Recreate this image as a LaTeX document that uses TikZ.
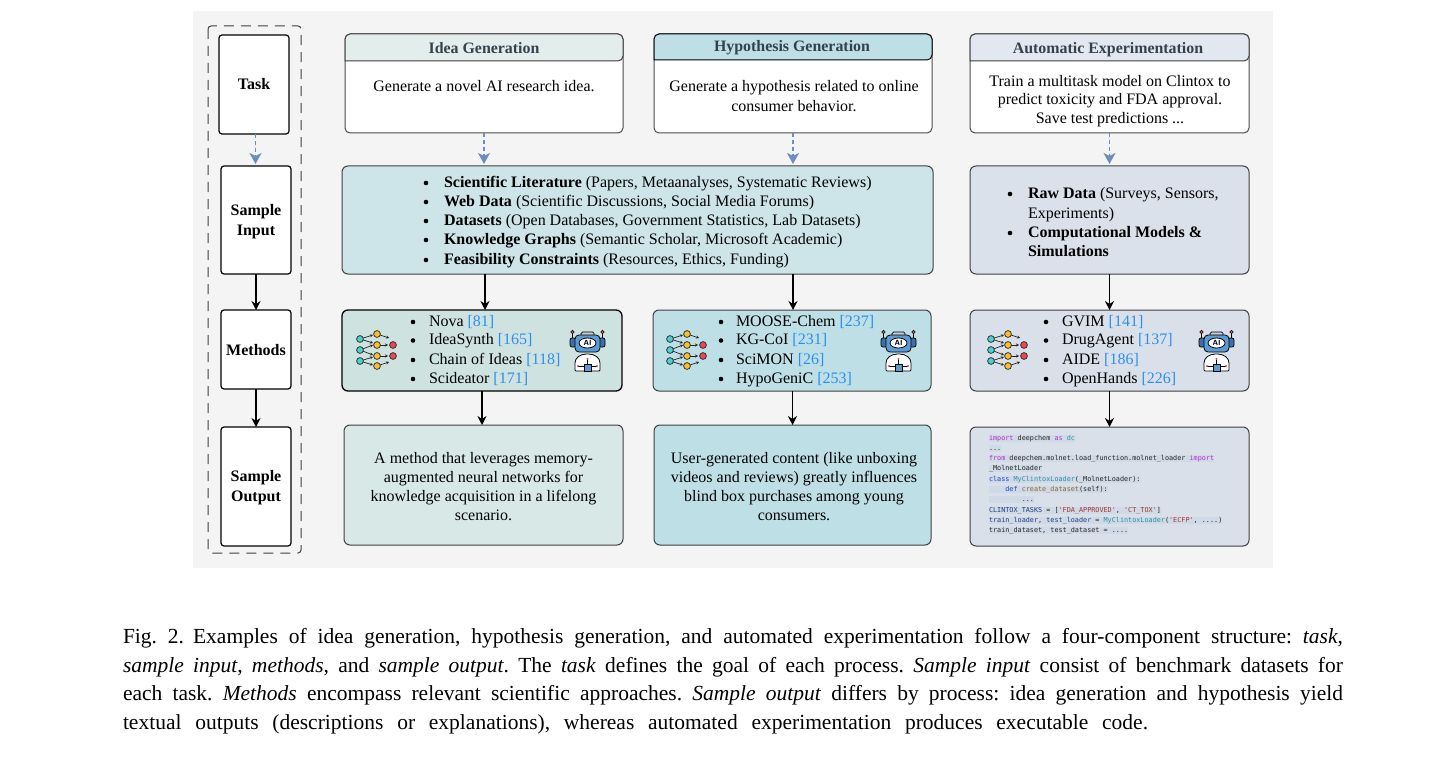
\documentclass[tikz,border=0pt]{standalone}
\usepackage{fontspec}
\setmainfont{Liberation Serif}
\newfontfamily\codefont{DejaVu Sans Mono}
\usetikzlibrary{arrows.meta,calc}
\frenchspacing
\definecolor{panel}{HTML}{F4F4F4}
\definecolor{linkc}{HTML}{2B8FF0}
\definecolor{dashc}{HTML}{6C8EBF}
\definecolor{titlec}{HTML}{34424F}
\definecolor{fidea}{HTML}{E3EEEC}
\definecolor{fhyp}{HTML}{BEDFE6}
\definecolor{fauto}{HTML}{E3E7EF}
\definecolor{flit}{HTML}{CDE4E8}
\definecolor{fraw}{HTML}{DAE1EB}
\definecolor{fmone}{HTML}{CEE2DF}
\definecolor{fmtwo}{HTML}{BFDFE6}
\definecolor{fmthree}{HTML}{DAE0EA}
\definecolor{foutone}{HTML}{D8E8E6}
\definecolor{fouttwo}{HTML}{BEDFE6}
\definecolor{codeh}{HTML}{D0DAE6}
\definecolor{kwp}{HTML}{B52BD0}
\definecolor{kwb}{HTML}{2040D0}
\definecolor{tyc}{HTML}{2B8FA8}
\definecolor{fnc}{HTML}{8A6A30}
\definecolor{stc}{HTML}{A83232}
\definecolor{vrc}{HTML}{1F3F80}
\definecolor{icteal}{HTML}{4DD0CC}
\definecolor{icyel}{HTML}{F5C02B}
\definecolor{icred}{HTML}{E84855}
\definecolor{icblue}{HTML}{5B9BD5}
\definecolor{icdark}{HTML}{3F6FA8}
\newcommand{\fs}[1]{\fontsize{#1}{#1}\selectfont}
\newcommand{\rf}[1]{\textcolor{linkc}{[#1]}}
\newcommand{\kp}[1]{\textcolor{kwp}{#1}}
\newcommand{\kb}[1]{\textcolor{kwb}{#1}}
\newcommand{\ty}[1]{\textcolor{tyc}{#1}}
\newcommand{\fnn}[1]{\textcolor{fnc}{#1}}
\newcommand{\st}[1]{\textcolor{stc}{#1}}
\newcommand{\vr}[1]{\textcolor{vrc}{#1}}
\tikzset{
  x=1pt,y=-1pt,
  every node/.style={inner sep=0pt,outer sep=0pt},
  sidebox/.style={draw=black,line width=1.2pt,rounded corners=3pt,fill=white,align=center,font=\fs{16}\bfseries},
  taskbox/.style={draw=black!70,line width=1pt,rounded corners=5pt,fill=white,align=center,font=\fs{16}},
  infobox/.style={draw=black!75,line width=1pt,rounded corners=6pt,align=center,font=\fs{16}},
  headtxt/.style={font=\fs{15.9}\bfseries,text=titlec},
  bulmark/.style={circle,fill=black,minimum size=4.6pt},
  itemtxt/.style={anchor=base west,font=\fs{16}},
  captxt/.style={anchor=west,font=\fs{21.5}},
  codeln/.style={anchor=west,font=\codefont\fs{6.8},fill=codeh,text=black!85,text height=5.5pt,text depth=1.5pt},
  solidarrow/.style={draw=black,line width=1.4pt,-{Stealth[length=9pt,width=9pt]}},
  dasharrow/.style={draw=dashc,line width=1.3pt,shorten >=2pt,dash pattern=on 4pt off 3pt,-{Stealth[length=11pt,width=12pt,inset=3pt]}},
  neta/.style={draw=black!85,line width=.7pt,-{Stealth[length=3pt,width=3pt]}},
}
\newcommand{\neticon}[1]{%
  \begin{scope}[shift={(#1,0)}]
    \foreach \a/\b/\c/\d in {360/339/373/335,360/350/373/345,360/361/373/357,377/334/389/338,377/345/388/345,377/356/388/356,377/366/389/362,360/350/373/355,360/339/373/343,360/361/373/365}{
      \draw[neta] (\a,\b) -- (\c,\d);}
    \foreach \a/\b in {360/339,360/350,360/361}{\draw[black!85,fill=icteal,line width=.7pt] (\a,\b) circle (3.4);}
    \foreach \a/\b in {377/334,377/345,377/356,377/366}{\draw[black!85,fill=icyel,line width=.7pt] (\a,\b) circle (3.4);}
    \foreach \a/\b in {393/345,393/356}{\draw[black!85,fill=icred,line width=.7pt] (\a,\b) circle (3.4);}
  \end{scope}}
\newcommand{\roboticon}[1]{%
  \begin{scope}[shift={(#1,0)}]
    \draw[black,line width=.7pt] (572.5,332) -- (572.5,338) (602.5,332) -- (602.5,338);
    \draw[black,fill=icred,line width=.5pt] (572.5,332) circle (1.7) (602.5,332) circle (1.7);
    \draw[black,fill=gray!40,line width=.7pt,rounded corners=1.5pt] (581,332) rectangle (594,337);
    \draw[black,fill=icdark,line width=.7pt,rounded corners=2pt] (570,338) rectangle (576,347) (599,338) rectangle (605,347);
    \draw[black,fill=icblue,line width=.8pt,rounded corners=4pt] (575,335) rectangle (600,352);
    \draw[black,fill=white,line width=.8pt] (587.5,343) ellipse (8.5 and 5);
    \path (587.5,343) node[font=\sffamily\bfseries\fs{7.5}] {AI};
    \draw[black,fill=white,line width=.8pt,rounded corners=1pt] (575,371) -- (575,364) .. controls (575,358) and (580,354) .. (587.5,354) .. controls (595,354) and (600,358) .. (600,364) -- (600,371) -- cycle;
    \draw[black,fill=icblue,line width=.6pt] (584,364) rectangle (591,371);
    \draw[black,line width=.5pt] (587.5,364) -- (587.5,359) (584,366) -- (578,366) (591,366) -- (597,366);
    \fill[icred] (587.5,359) circle (1.2) (578,366) circle (1.2) (597,366) circle (1.2);
  \end{scope}}
\begin{document}
\begin{tikzpicture}
\useasboundingbox (0,0) rectangle (1439,762);
\fill[white] (0,0) rectangle (1439,762);
\fill[panel] (193,11) rectangle (1273,568);
\draw[black!75,line width=1pt,dash pattern=on 10pt off 7pt,rounded corners=3pt] (208,26) rectangle (301,553);

% left column
\node[sidebox,minimum width=70pt,minimum height=99pt] (task) at (254,84.5) {Task};
\node[sidebox,minimum width=70pt,minimum height=108pt] (sinput) at (256,220) {};
\node[font=\fs{16}\bfseries,align=center] (sinputt) at (256,222) {Sample\\[4pt]Input};
\node[sidebox,minimum width=70pt,minimum height=79pt] (meth) at (256,349.5) {};
\node[font=\fs{16}\bfseries] (metht) at (256,350.5) {Methods};
\node[sidebox,minimum width=70pt,minimum height=119pt] (soutput) at (256,486.5) {};
\node[font=\fs{16}\bfseries,align=center] (soutputt) at (256,487.5) {Sample\\[4pt]Output};
\coordinate (xtask) at (255.5,134);
\draw[dasharrow] (xtask) -- (xtask |- sinput.north);
\draw[solidarrow] (sinput.south) -- (meth.north);
\draw[solidarrow] (meth.south) -- (soutput.north);

% task row
\node[taskbox,minimum width=278pt,minimum height=99pt] (idea) at (484,83.5) {};
\node[taskbox,minimum width=278pt,minimum height=99pt] (hyp) at (793,83.5) {};
\node[taskbox,minimum width=279pt,minimum height=99pt] (auto) at (1109.5,83.5) {};
\draw[black!75,line width=1pt,fill=fidea,rounded corners=5pt] (345,61) -- (345,34) -- (623,34) -- (623,61) [sharp corners] -- cycle;
\draw[black,line width=1pt,fill=fhyp,rounded corners=5pt] (654,60) -- (654,34) -- (932,34) -- (932,60) [sharp corners] -- cycle;
\draw[black!75,line width=1pt,fill=fauto,rounded corners=5pt] (970,61) -- (970,34) -- (1249,34) -- (1249,61) [sharp corners] -- cycle;
\node[headtxt] (ideat) at (484,48) {Idea Generation};
\node[headtxt] (hypt) at (792,47.5) {Hypothesis Generation};
\node[headtxt] (autot) at (1108,49.5) {Automatic Experimentation};
\node[font=\fs{16}] (ideab) at (484,86) {Generate a novel AI research idea.};
\node[font=\fs{16},align=center] (hypb) at (794,96.5) {Generate a hypothesis related to online\\[4pt]consumer behavior.};
\node[font=\fs{16},align=center] (autob) at (1110,101) {Train a multitask model on Clintox to\\[2.5pt]predict toxicity and FDA approval.\\[2.5pt]Save test predictions ...};

% input row
\node[infobox,fill=flit,minimum width=591pt,minimum height=108pt] (lit) at (637.5,220) {};
\node[infobox,fill=fraw,minimum width=279pt,minimum height=108pt] (raw) at (1109.5,220) {};
\foreach \y/\t in {
  182/{\textbf{Scientific Literature} (Papers, Metaanalyses, Systematic Reviews)},
  201/{\textbf{Web Data} (Scientific Discussions, Social Media Forums)},
  220/{\textbf{Datasets} (Open Databases, Government Statistics, Lab Datasets)},
  239/{\textbf{Knowledge Graphs} (Semantic Scholar, Microsoft Academic)},
  259/{\textbf{Feasibility Constraints} (Resources, Ethics, Funding)}}{
  \node[bulmark] at (426,\y+1) {};
  \node[itemtxt] at (444,\y+5) {\t};
}
\node[bulmark] (b1) at (1010,194) {};
\node[itemtxt] (r1) at (1028,198) {\textbf{Raw Data} (Surveys, Sensors,};
\node[itemtxt] (r2) at (1028,218) {Experiments)};
\node[bulmark] (b2) at (1010,233) {};
\node[itemtxt] (r3) at (1028,237) {\textbf{Computational Models \&}};
\node[itemtxt] (r4) at (1028,256) {\textbf{Simulations}};

% methods row
\node[infobox,draw=black,line width=1.3pt,fill=fmone,minimum width=280pt,minimum height=81pt] (mone) at (482,350.5) {};
\node[infobox,fill=fmtwo,minimum width=278pt,minimum height=81pt] (mtwo) at (792,350.5) {};
\node[infobox,fill=fmthree,minimum width=279pt,minimum height=81pt] (mthree) at (1109.5,350.5) {};
\foreach \y/\t in {321/{Nova \rf{81}},339.5/{IdeaSynth \rf{165}},359/{Chain of Ideas \rf{118}},378/{Scideator \rf{171}}}{
  \node[bulmark] at (413,\y+1) {};
  \node[itemtxt] at (429,\y+5) {\t};
}
\foreach \y/\t in {321/{MOOSE-Chem \rf{237}},339.5/{KG-CoI \rf{231}},359/{SciMON \rf{26}},378/{HypoGeniC \rf{253}}}{
  \node[bulmark] at (721,\y+1) {};
  \node[itemtxt] at (736,\y+5) {\t};
}
\foreach \y/\t in {321/{GVIM \rf{141}},339.5/{DrugAgent \rf{137}},359/{AIDE \rf{186}},378/{OpenHands \rf{226}}}{
  \node[bulmark] at (1046,\y+1) {};
  \node[itemtxt] at (1062,\y+5) {\t};
}
\neticon{0}\neticon{310}\neticon{631}
\roboticon{0}\roboticon{311}\roboticon{629}

% output row
\node[infobox,fill=foutone,minimum width=279pt,minimum height=120pt] (oone) at (483.5,485) {};
\node[font=\fs{16},align=center] (oonet) at (483.5,486.5) {A method that leverages memory-\\[3.2pt]augmented neural networks for\\[3.2pt]knowledge acquisition in a lifelong\\[3.2pt]scenario.};
\node[infobox,fill=fouttwo,minimum width=277pt,minimum height=120pt] (otwo) at (792.5,485) {};
\node[font=\fs{16},align=center] (otwot) at (794,486.5) {User-generated content (like unboxing\\[3.2pt]videos and reviews) greatly influences\\[3.2pt]blind box purchases among young\\[3.2pt]consumers.};
\node[infobox,fill=fmthree,minimum width=279pt,minimum height=119pt] (othree) at (1109.5,486.5) {};
\node[codeln] (c1) at (989,438) {\kp{import} deepchem \kp{as} \ty{dc}};
\node[codeln] (c2) at (989,448) {...};
\node[codeln] (c3) at (989,458) {\kp{from} deepchem.molnet.load\_function.molnet\_loader \kp{import}};
\node[codeln] (c4) at (989,468.5) {\_MolnetLoader};
\node[codeln] (c5) at (989,479) {\kb{class} \ty{MyClintoxLoader}(\_MolnetLoader):};
\node[codeln] (c6) at (989,489) {\phantom{xxxx}\kb{def} \fnn{create\_dataset}(self):};
\node[codeln] (c7) at (989,499.5) {\phantom{xxxxxxxx}...};
\node[codeln] (c8) at (989,510) {\vr{CLINTOX\_TASKS} = [\st{'FDA\_APPROVED'}, \st{'CT\_TOX'}]};
\node[codeln] (c9) at (989,520) {\vr{train\_loader}, \vr{test\_loader} = \ty{MyClintoxLoader}(\st{'ECFP'}, ....)};
\node[codeln] (c10) at (989,530) {train\_dataset, test\_dataset = ....};

% connectors
\coordinate (xlit) at (485,274);
\draw[dasharrow] (idea.south) -- (idea.south |- lit.north);
\draw[dasharrow] (hyp.south) -- (hyp.south |- lit.north);
\draw[dasharrow] (auto.south) -- (raw.north);
\draw[solidarrow] (xlit) -- (xlit |- mone.north);
\draw[solidarrow] (hyp.south |- lit.south) -- (hyp.south |- mtwo.north);
\draw[solidarrow] (raw.south) -- (mthree.north);
\draw[solidarrow] (mone.south) -- (mone.south |- oone.north);
\draw[solidarrow] (otwo.north |- mtwo.south) -- (otwo.north);
\draw[solidarrow] (mthree.south) -- (othree.north);

% caption
\node[captxt] (l1) at (123,638) {\makebox[1220pt][s]{Fig. 2.\kern 9pt Examples of idea generation, hypothesis generation, and automated experimentation follow a four-component structure: \textit{task},}};
\node[captxt] (l2) at (123,667) {\makebox[1220pt][s]{\textit{sample input}, \textit{methods}, and \textit{sample output}. The \textit{task} defines the goal of each process. \textit{Sample input} consist of benchmark datasets for}};
\node[captxt] (l3) at (123,695) {\makebox[1220pt][s]{each task. \textit{Methods} encompass relevant scientific approaches. \textit{Sample output} differs by process: idea generation and hypothesis yield}};
\node[captxt] (l4) at (123,724) {\makebox[1025pt][s]{textual outputs (descriptions or explanations), whereas automated experimentation produces executable code.}};
\end{tikzpicture}
\end{document}
